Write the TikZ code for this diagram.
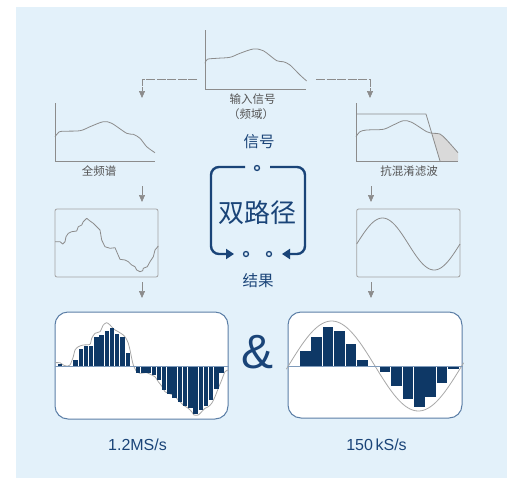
\documentclass[tikz,border=0pt]{standalone}
\usepackage{fontspec}
\setmainfont{Liberation Sans}
\newfontfamily\cjk{Noto Sans CJK SC}
\usetikzlibrary{arrows.meta}
\definecolor{panelBlue}{HTML}{E3F1FA}
\definecolor{lineGray}{HTML}{8C8C8C}
\definecolor{txtGray}{HTML}{555555}
\definecolor{navy}{HTML}{1A4478}
\definecolor{barNavy}{HTML}{0E3866}
\definecolor{frameBlue}{HTML}{5B7EA6}
\definecolor{axisBlue}{HTML}{7F9BBB}
\definecolor{sampGray}{HTML}{A8A8A8}
\begin{document}
\begin{tikzpicture}[x=1pt, y=-1pt,
  axis/.style={draw=lineGray, line width=0.8pt},
  curve/.style={draw=lineGray, line width=0.8pt, line join=round},
  flow/.style={draw=lineGray, line width=0.7pt, dash pattern=on 9pt off 1.5pt,
    -{Triangle[width=6pt,length=7pt]}},
  frame/.style={draw=lineGray!80, line width=0.8pt, rounded corners=2pt,
    inner sep=0pt},
  sampbox/.style={draw=frameBlue, fill=white, line width=1pt,
    rounded corners=13pt, inner sep=0pt},
  lbl/.style={font=\cjk\fontsize{11.5}{13}\selectfont, text=txtGray, inner sep=0pt},
  head/.style={font=\cjk\fontsize{15.5}{17}\selectfont, text=navy, inner sep=0pt},
  rate/.style={font=\fontsize{16}{18}\selectfont, text=navy, inner sep=0pt},
  loop/.style={draw=navy, line width=2.4pt, rounded corners=8pt,
    -{Triangle[width=10pt,length=8pt]}},
  dot/.style={circle, draw=navy, line width=1.3pt, inner sep=0pt,
    minimum size=5pt},
  bar/.style={fill=barNavy}
  ]
  \useasboundingbox (0,0) rectangle (516,490);
  \fill[panelBlue] (16,7) rectangle (507,478);

  \draw[axis] (205,30) -- (205,89) -- (306,89);
  \draw[curve] plot[smooth] coordinates {(205,63.3) (207.3,59.3) (216.7,58.3)
    (230,57.3) (240,53.3) (253.3,49) (263.3,50.7) (276.7,60.7) (283.3,61.7)
    (290,65) (300,75) (306.7,81)};
  \node[lbl] (inLbl) at (252.5,99.3) {输入信号};
  \node[lbl] (inSub) at (251,114) {（频域）};

  \coordinate (inL) at (197,79);
  \coordinate (inR) at (316,79);
  \coordinate (fullTop) at (142,98);
  \coordinate (aafTop) at (370,98);
  \draw[flow] (inL) -| (fullTop);
  \draw[flow] (inR) -| (aafTop);

  \draw[axis] (55,103) -- (55,161) -- (155,161);
  \draw[curve] plot[smooth] coordinates {(55,136.7) (58.3,132.7) (61.7,131.3)
    (80,130.7) (90,126.7) (103.3,121.7) (111.7,123.3) (126.7,133.3)
    (133.3,134.3) (140,138.3) (146.7,146.7) (155,152.7)};
  \node[lbl] (fullLbl) at (99,171) {全频谱};

  \fill[gray!30] plot[smooth] coordinates {(431.5,133) (440,134) (446.7,140)
    (458,152.7)} -- (458,161) -- (440,161) -- cycle;
  \draw[axis] (356,103) -- (356,161) -- (458,161);
  \draw[curve] (356,114) -- (426,114) -- (440,161);
  \draw[curve] plot[smooth] coordinates {(356,136.7) (360,131.7) (366.7,130)
    (383.3,129.3) (393.3,125) (403.3,120.7) (411.7,122.3) (426.7,131.7)
    (433.3,133.3) (440,134) (446.7,140) (458,152.7)};
  \node[lbl] (aafLbl) at (409,171) {抗混淆滤波};

  \coordinate (fullBot) at (142,186);
  \coordinate (sigTop) at (142,202);
  \coordinate (aafBot) at (371,186);
  \coordinate (sineTop) at (371,202);
  \draw[flow] (fullBot) -- (sigTop);
  \draw[flow] (aafBot) -- (sineTop);

  \node[frame, minimum width=103pt, minimum height=68pt] (sigBox) at (106.5,243) {};
  \draw[curve] (55,241.7) -- (60,241.7) -- (62.7,244) -- (65,241.7) -- (66,236.7)
    -- (68.3,233.3) -- (71.7,231.7) -- (76.7,231) -- (78.3,226.7) -- (81.7,225)
    -- (83.3,221.7) -- (86.7,218.3) -- (90,221) -- (93.3,223.3) -- (96.7,226.7)
    -- (100,230) -- (101.7,240) -- (105,246.7) -- (110,248.3) -- (115,247.7)
    -- (116.7,251.7) -- (120,259.3) -- (125,260) -- (128.3,261.7) -- (131.7,265)
    -- (135,266.7) -- (136.7,270) -- (140,271.7) -- (142.7,270.7) -- (143.3,268.3)
    -- (147.3,266.7) -- (150,261.7) -- (153.3,256.7) -- (155,250) -- (158.3,246);

  \node[frame, minimum width=103.3pt, minimum height=68pt] (sineBox) at (408.3,243) {};
  \draw[curve] plot[domain=0:360, samples=72] ({356.7+\x/360*103.3}, {244-26*sin(\x)});

  \coordinate (sigBot) at (142,282);
  \coordinate (sampLTop) at (142,298);
  \coordinate (sineBot) at (371,282);
  \coordinate (sampRTop) at (371,298);
  \draw[flow] (sigBot) -- (sampLTop);
  \draw[flow] (sineBot) -- (sampRTop);

  \node[head] (sigLbl) at (259,142) {信号};
  \node[dot] (dotTop) at (257,168) {};
  \node[dot] (dotL) at (246,254) {};
  \node[dot] (dotR) at (269,254) {};
  \coordinate (loopL) at (245,167);
  \coordinate (loopR) at (270,167);
  \draw[loop] (loopL) -| (211,254) -- ([xshift=-12pt]dotL.center);
  \draw[loop] (loopR) -| (305,254) -- ([xshift=13pt]dotR.center);
  \node[font=\cjk\fontsize{26}{30}\selectfont, text=navy, inner sep=0pt] (dualLbl)
    at (257,213) {双路径};
  \node[head] (resLbl) at (258,281) {结果};

  \node[sampbox, minimum width=173pt, minimum height=107pt] (sampL) at (141.5,365.5) {};
  \draw[sampGray, line width=0.8pt, line join=round] plot[smooth, tension=0.4]
    coordinates {(55,362.7) (60,362.7) (63.3,365) (66.7,366) (70,365) (73.3,356.7)
    (75,350) (78.3,346.7) (83.3,345) (90,344.3) (91.7,338.3) (95,333.3)
    (100,331.7) (103.3,325) (106.7,322.7) (110,325) (114,329.3) (118.3,331.7)
    (123.3,335) (126,338.3) (128.3,343.3) (130,350) (131.7,358.3) (133.3,365)
    (136.7,371.7) (140,373.3) (146.7,372.7) (151.7,375) (155,376.7) (158.3,381.7)
    (161.7,386) (165,391.7) (168.3,393.3) (173.3,395) (178.3,400) (183.3,405)
    (188.3,408.3) (191.7,411.7) (194,415) (198.3,415) (201.7,411.7) (205,408.3)
    (208.3,406.7) (211.7,403.3) (215,396.7) (218.3,388.3) (221.7,380)
    (225,371.7) (228.3,370)};
  \foreach \h [count=\i from -3] in {2.3,0,0,6.3,17.3,19.7,19.7,29,31.3,34.7,38,
    32.3,29,13,0,-7,-7,-7,-9.3,-14.3,-23.7,-28.3,-31.7,-36,-40.3,-42,-47.7,
    -44.3,-40.3,-33.7,-22.7,-7}
    \fill[bar] ({73.3+5.22*\i},366) rectangle ++(4.4,-\h);
  \draw[axisBlue, line width=0.9pt] (sampL.west |- 0,366) -- (sampL.east |- 0,366);

  \node[sampbox, minimum width=174pt, minimum height=106pt] (sampR) at (375,365) {};
  \draw[sampGray, line width=0.8pt] plot[domain=-4:364, samples=90]
    ({288.3+\x/360*173.4}, {366-45*sin(\x)});
  \foreach \h [count=\j from 0] in {15,29.3,39.3,35.3,22,6,0,-5.7,-20,-33,-40.7,
    -30.7,-17.3,-3}
    \fill[bar] ({300+11.4*\j},366) rectangle ++(10.6,-\h);
  \draw[axisBlue, line width=0.9pt] (sampR.west |- 0,366) -- (sampR.east |- 0,366);

  \node[font=\fontsize{48}{50}\selectfont, text=navy, inner sep=0pt] (amp)
    at (258,352) {\&};
  \node[rate] (rateL) at (137.5,445) {1.2MS/s};
  \node[rate] (rateR) at (376.5,445) {150\,kS/s};
\end{tikzpicture}
\end{document}
